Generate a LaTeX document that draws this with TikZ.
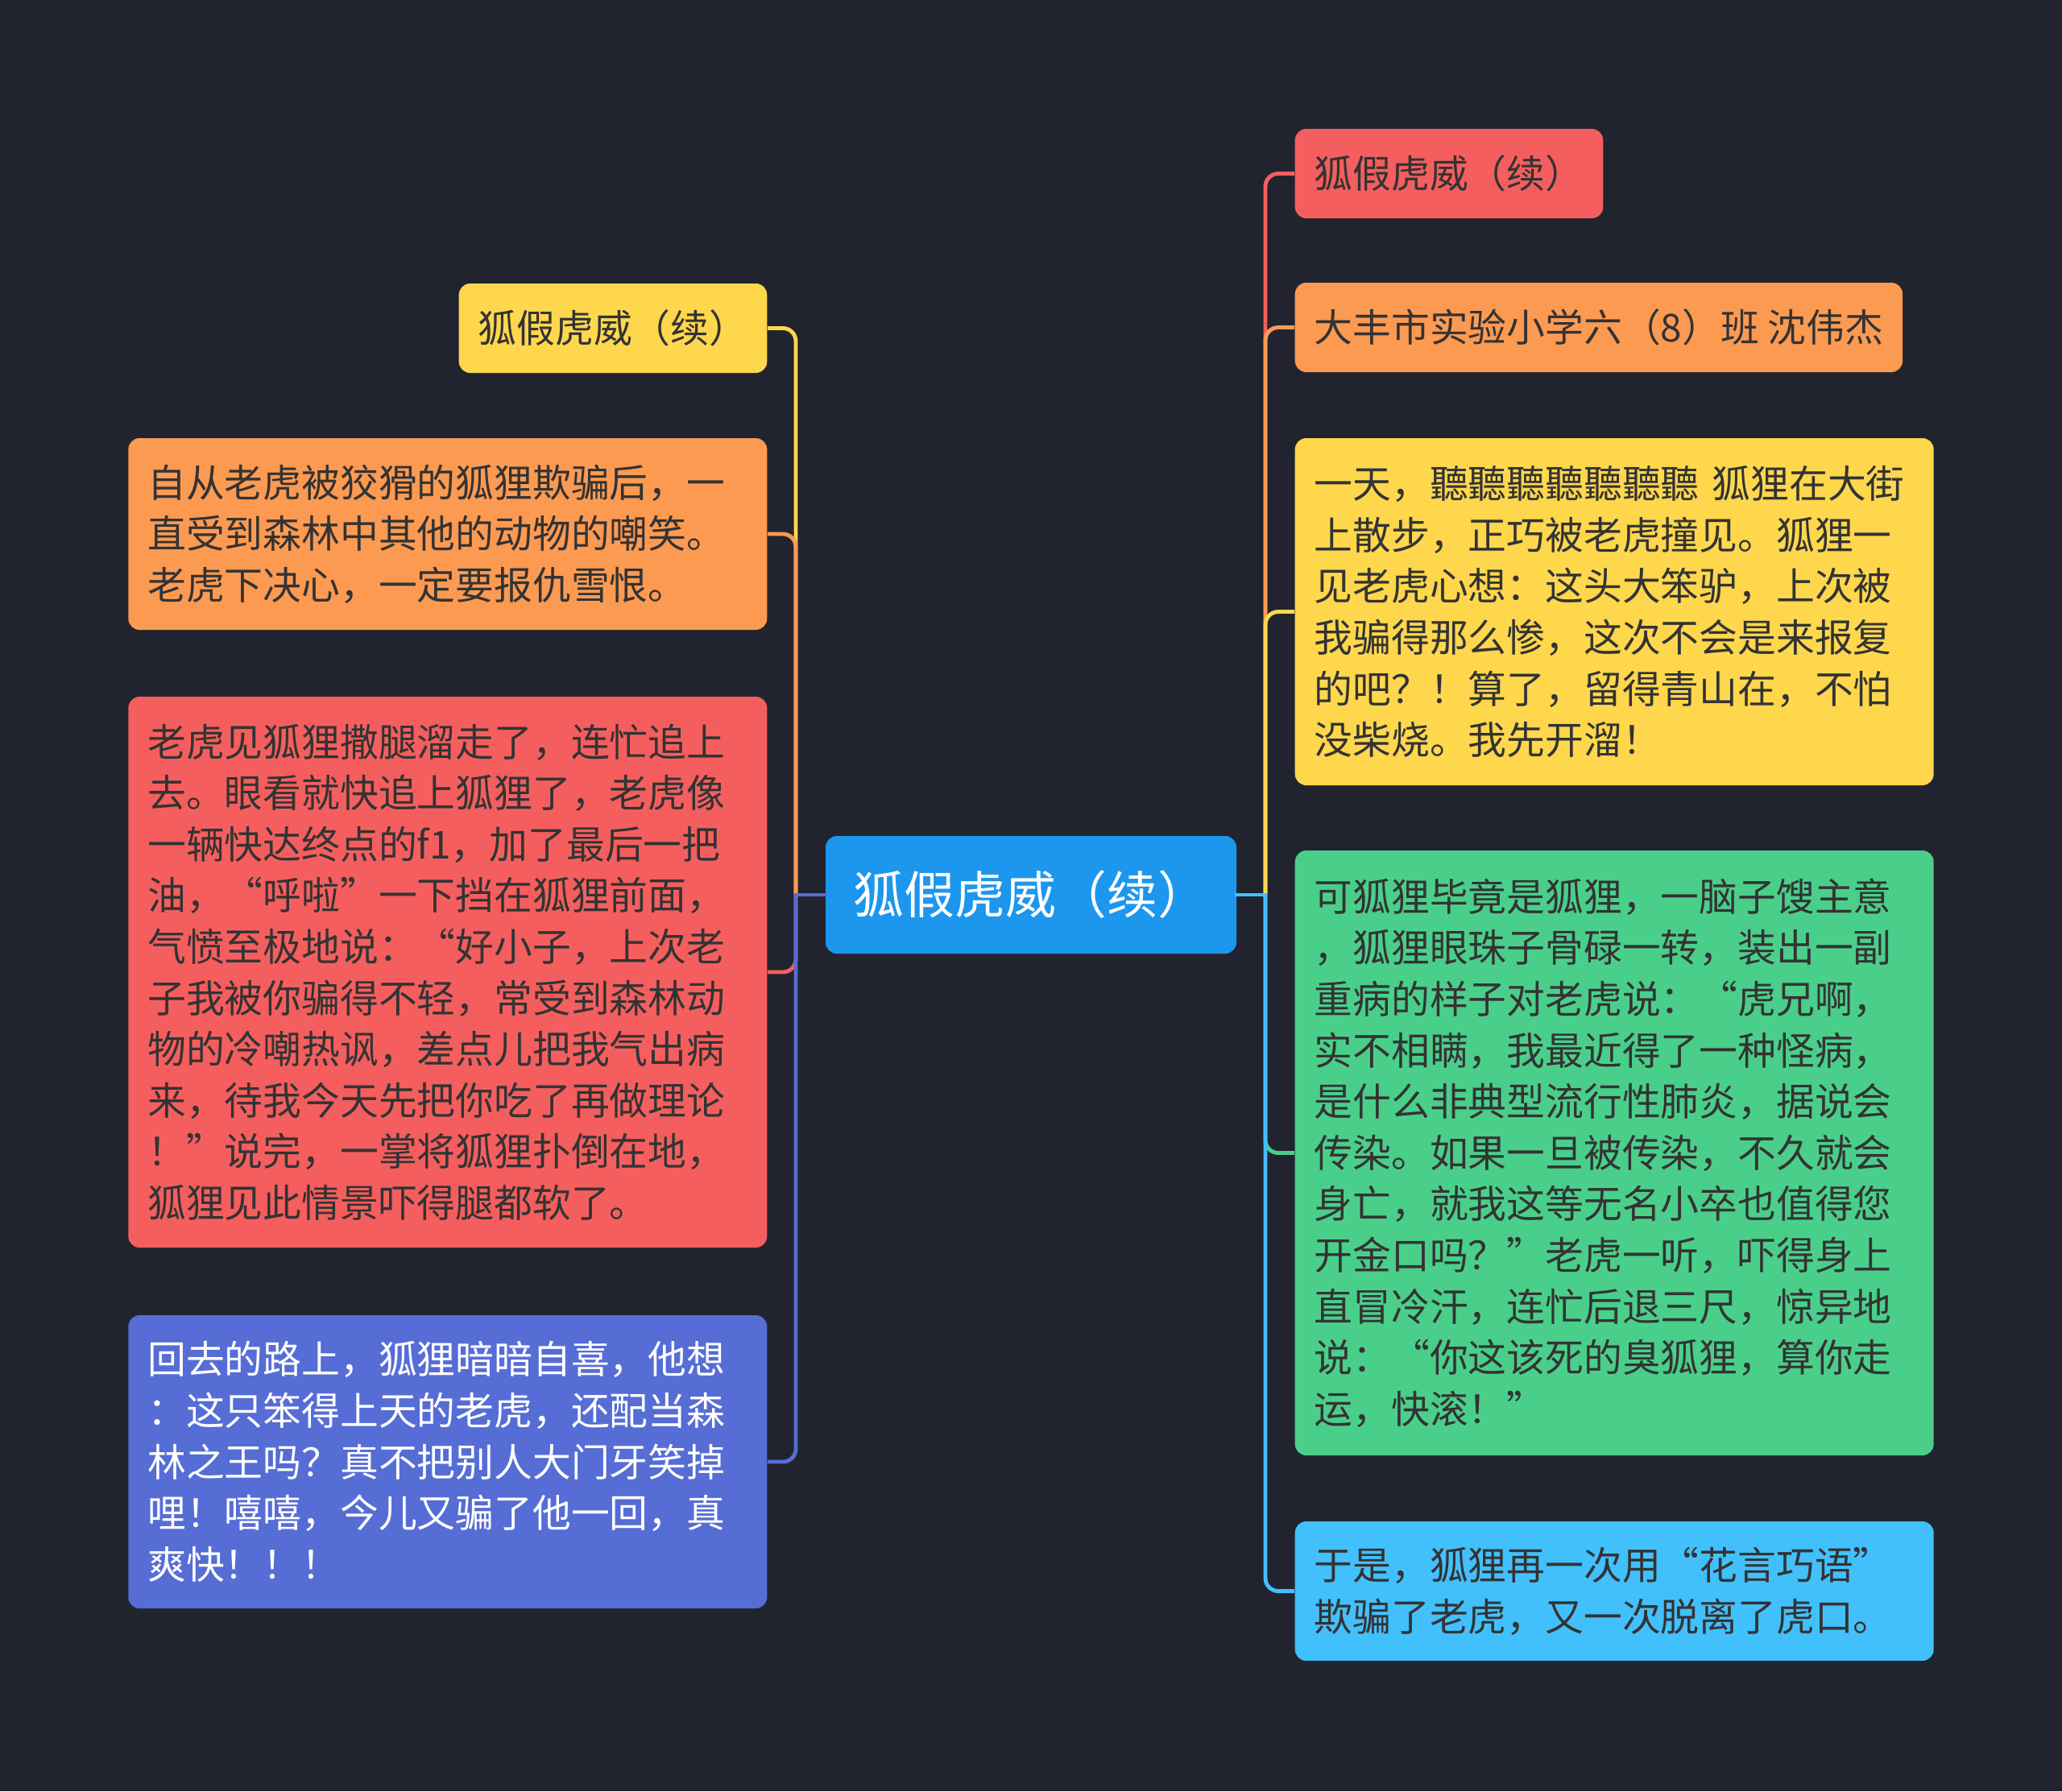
\documentclass[tikz,border=0pt]{standalone}
\usepackage{fontspec}
\newfontfamily\cjk{Noto Sans CJK SC}
\usepackage{xcolor}
\usepackage{tikz}
\usetikzlibrary{positioning, calc, backgrounds}

\definecolor{bgc}{HTML}{21242F}
\definecolor{rootc}{HTML}{1D97EE}
\definecolor{redc}{HTML}{F55E5E}
\definecolor{orgc}{HTML}{FD9A52}
\definecolor{ylwc}{HTML}{FED74D}
\definecolor{grnc}{HTML}{4ACF8B}
\definecolor{cyac}{HTML}{42C0FC}
\definecolor{bluc}{HTML}{566DD6}
\definecolor{txtc}{HTML}{333333}

\begin{document}
\begin{tikzpicture}[
    box/.style={rounded corners=0.14cm, inner xsep=0.24cm, inner ysep=0pt,
        text=txtc, font=\cjk\fontsize{13.6pt}{18.1pt}\selectfont},
    lbox/.style={box, anchor=east},
    rbox/.style={box, anchor=west},
    para/.style={text width=7.45cm, align=left},
    link/.style={line width=1.4pt, rounded corners=0.16cm, #1},
    stub/.style={line width=1.4pt, line cap=rect, #1}
]

% Background
\fill[bgc] (0,0) rectangle (25.6,-22.24);
\useasboundingbox (0,0) rectangle (25.6,-22.24);

% Root
\node[box, fill=rootc, text=white, minimum width=5.1cm, minimum height=1.46cm,
    font=\cjk\fontsize{17.9pt}{22pt}\selectfont] (root) at (12.8,-11.11) {狐假虎威（续）};

% Trunks
\coordinate (ltrunk) at (9.88,-11.11);
\coordinate (rtrunk) at (15.71,-11.11);

% Left nodes
\node[lbox, fill=ylwc, minimum height=1.11cm] (title) at (9.53,-4.075) {狐假虎威（续）};
\node[lbox, para, fill=orgc, minimum height=2.38cm] (start) at (9.53,-6.63) {自从老虎被狡猾的狐狸欺骗后，一\\直受到森林中其他的动物的嘲笑。\\老虎下决心，一定要报仇雪恨。};
\node[lbox, para, fill=redc, minimum height=6.84cm] (chase) at (9.53,-12.07) {老虎见狐狸撒腿溜走了，连忙追上\\去。眼看就快追上狐狸了，老虎像\\一辆快达终点的f1，加了最后一把\\油，“呼啦”一下挡在狐狸前面，\\气愤至极地说：“好小子，上次老\\子我被你骗得不轻，常受到森林动\\物的冷嘲热讽，差点儿把我气出病\\来，待我今天先把你吃了再做理论\\！”说完，一掌将狐狸扑倒在地，\\狐狸见此情景吓得腿都软了。};
\node[lbox, para, fill=bluc, text=white, minimum height=3.64cm] (home) at (9.53,-18.15) {回去的路上，狐狸暗暗自喜，他想\\：这只笨得上天的老虎，还配当森\\林之王吗？真不把别人大门牙笑掉\\哩！嘻嘻，今儿又骗了他一回，真\\爽快！！！};

% Right nodes
\node[rbox, fill=redc, minimum height=1.11cm] (head) at (16.07,-2.155) {狐假虎威（续）};
\node[rbox, fill=orgc, minimum height=1.11cm] (author) at (16.07,-4.065) {大丰市实验小学六（8）班 沈伟杰};
\node[rbox, para, fill=ylwc, minimum height=4.31cm] (meet) at (16.07,-7.595) {一天，聽聽聽聽聽聽聽 狐狸在大街\\上散步，正巧被老虎撞见。狐狸一\\见老虎心想：这头大笨驴，上次被\\我骗得那么惨，这次不会是来报复\\的吧？！算了，留得青山在，不怕\\没柴烧。我先开溜！};
\node[rbox, para, fill=grnc, minimum height=7.51cm] (trick) at (16.07,-14.315) {可狐狸毕竟是狐狸，一脑子馊主意\\，狐狸眼珠子骨碌一转，装出一副\\重病的样子对老虎说：“虎兄啊，\\实不相瞒，我最近得了一种怪病，\\是什么非典型流行性肺炎，据说会\\传染。如果一旦被传染，不久就会\\身亡，就我这等无名小卒也值得您\\开金口吗？”老虎一听，吓得身上\\直冒冷汗，连忙后退三尺，惊异地\\说：“你这该死的臭狐狸，算你走\\运，快滚！”};
\node[rbox, para, fill=cyac, minimum height=1.73cm] (escape) at (16.07,-19.755) {于是，狐狸再一次用“花言巧语”\\欺骗了老虎，又一次脱离了虎口。};

% Links, left side
\draw[link=ylwc] (ltrunk) |- (title.east);
\draw[link=orgc] (ltrunk) |- (start.east);
\draw[link=redc] (ltrunk) |- (chase.east);
\draw[link=bluc] (ltrunk) |- (home.east);
\draw[stub=bluc] (root.west) -- (ltrunk);

% Links, right side
\draw[link=redc] (rtrunk) |- (head.west);
\draw[link=orgc] (rtrunk) |- (author.west);
\draw[link=ylwc] (rtrunk) |- (meet.west);
\draw[link=grnc] (rtrunk) |- (trick.west);
\draw[link=cyac] (rtrunk) |- (escape.west);
\draw[stub=cyac] (root.east) -- (rtrunk);

\end{tikzpicture}
\end{document}
